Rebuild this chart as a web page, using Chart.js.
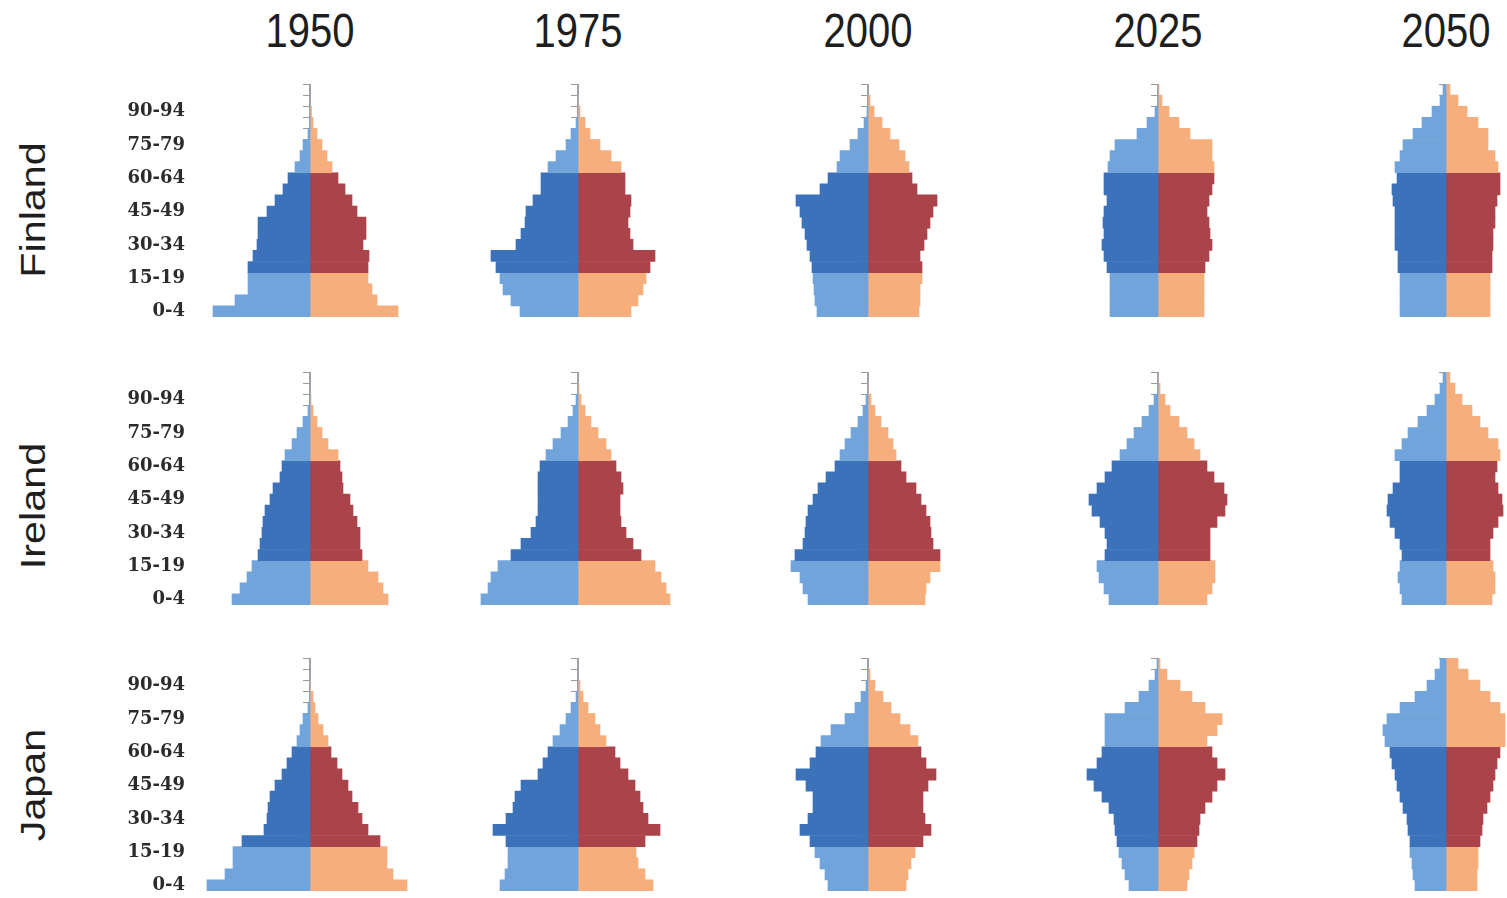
<!DOCTYPE html>
<html>
<head>
<meta charset="utf-8">
<script src="https://cdn.jsdelivr.net/npm/chart.js@4.4.1/dist/chart.umd.min.js"></script>
<style>
html,body{margin:0;padding:0;background:#fff;width:1507px;height:898px;overflow:hidden;position:relative;}
.pane{position:absolute;}
.year{position:absolute;top:8px;font-family:'Liberation Sans',Arial,sans-serif;font-size:40px;line-height:44px;color:#1e1e1e;white-space:nowrap;transform:translateX(-50%) scaleY(1.2);}
.country{position:absolute;font-family:'Liberation Sans',Arial,sans-serif;font-size:35px;line-height:40px;color:#1e1e1e;white-space:nowrap;transform:translate(-50%,-50%) rotate(-90deg) scaleX(1.18);}
</style>
</head>
<body>
<script>
// ---- categories / tick labels ----
const ageGroups = ['0-4','5-9','10-14','15-19','20-24','25-29','30-34','35-39','40-44','45-49','50-54','55-59','60-64','65-69','70-74','75-79','80-84','85-89','90-94','95-99','100+'];
const years = ['1950','1975','2000','2025','2050'];
const countries = ['Finland','Ireland','Japan'];

// ---- series values (share of population, index 0 = 0-4) ----
const finland1950Male   = [9.7,7.5,6.2,6.2,6.2,5.7,5.3,5.2,5.2,4.3,3.5,2.7,2.2,1.5,1.0,0.7,0.2,0.05,0,0,0];
const finland1950Female = [8.8,6.7,6.2,5.8,5.8,5.9,5.3,5.6,5.6,4.7,4.2,3.5,2.8,2.2,1.7,1.2,0.7,0.3,0.15,0,0];
const finland1975Male   = [5.8,6.7,7.5,7.8,8.2,8.7,6.2,5.7,5.3,5.2,4.5,3.7,3.7,3.0,2.2,1.2,0.7,0.2,0.05,0,0];
const finland1975Female = [5.3,6.0,6.5,6.8,7.2,7.7,5.5,5.2,5.0,5.2,5.3,4.7,4.7,4.3,3.3,2.2,1.2,0.7,0.2,0.05,0];
const finland2000Male   = [5.1,5.3,5.4,5.5,5.6,5.8,6.1,6.3,6.6,6.8,7.2,4.8,4.0,3.1,2.8,1.8,1.0,0.4,0.1,0,0];
const finland2000Female = [5.1,5.2,5.2,5.4,5.4,5.2,5.6,5.9,6.2,6.5,6.9,4.9,4.4,4.1,3.7,3.1,2.2,1.4,0.6,0.2,0];
const finland2025Male   = [4.8,4.8,4.8,4.8,5.1,5.4,5.6,5.4,5.5,5.4,5.1,5.4,5.4,5.0,4.8,4.3,2.1,1.1,0.3,0.05,0];
const finland2025Female = [4.6,4.6,4.6,4.6,4.7,5.1,5.4,5.2,5.1,4.9,5.1,5.4,5.6,5.6,5.4,5.4,3.2,2.1,1.1,0.4,0.1];
const finland2050Male   = [4.6,4.6,4.6,4.6,4.8,4.8,5.1,5.1,5.1,5.1,5.3,5.4,4.9,5.1,4.6,4.3,3.3,2.4,1.4,0.6,0.3];
const finland2050Female = [4.4,4.4,4.4,4.4,4.6,4.6,4.7,4.7,4.9,4.9,5.1,5.4,5.4,5.2,4.9,4.2,4.2,3.2,2.1,1.2,0.4];

const ireland1950Male   = [7.8,7.0,6.3,5.8,5.2,5.0,4.8,4.7,4.5,4.0,3.7,3.0,2.8,2.5,1.8,1.3,0.7,0.2,0.05,0,0];
const ireland1950Female = [7.8,7.3,6.8,5.8,5.2,5.0,5.0,4.7,4.3,4.0,3.3,3.2,3.0,2.8,1.8,1.2,0.7,0.3,0.1,0,0];
const ireland1975Male   = [9.7,9.0,8.7,8.0,6.7,5.7,4.7,4.2,4.0,4.0,4.0,4.0,3.8,3.2,2.5,1.7,1.0,0.5,0.2,0,0];
const ireland1975Female = [9.2,8.8,8.3,7.7,6.3,5.5,4.8,4.3,4.2,4.2,4.5,4.3,3.8,3.3,2.8,2.0,1.3,0.7,0.3,0.1,0];
const ireland2000Male   = [6.0,6.5,6.8,7.7,7.3,6.5,6.3,6.2,6.0,5.5,5.0,4.2,3.3,2.8,2.3,1.7,1.0,0.5,0.2,0,0];
const ireland2000Female = [5.7,5.8,6.2,7.2,7.2,6.5,6.3,6.2,5.8,5.3,4.8,3.8,3.3,2.8,2.5,2.0,1.3,0.7,0.3,0.05,0];
const ireland2025Male   = [4.9,5.4,5.9,6.1,5.3,5.1,5.3,5.8,6.6,6.9,6.1,5.3,4.6,3.8,3.1,2.4,1.6,0.9,0.4,0.05,0];
const ireland2025Female = [4.9,5.4,5.7,5.7,5.2,5.2,5.2,5.9,6.7,6.9,6.6,5.6,4.9,4.2,3.6,2.9,2.1,1.2,0.7,0.2,0.03];
const ireland2050Male   = [4.4,4.6,4.8,4.6,4.4,4.6,5.1,5.6,5.9,5.8,5.3,4.6,4.6,5.1,4.4,3.8,2.8,1.9,1.1,0.6,0.3];
const ireland2050Female = [4.6,4.9,4.9,4.7,4.4,4.4,4.7,5.2,5.7,5.6,5.2,4.9,5.1,5.4,5.2,4.2,3.4,2.6,1.6,0.9,0.4];

const japan1950Male   = [10.3,8.5,7.7,7.7,6.8,4.6,4.3,4.2,4.0,3.5,2.8,2.3,1.8,1.3,1.0,0.7,0.2,0.05,0,0,0];
const japan1950Female = [9.7,8.3,7.7,7.7,7.0,5.8,5.2,4.8,4.2,3.8,3.2,2.7,2.1,1.8,1.3,0.8,0.5,0.3,0.05,0,0];
const japan1975Male   = [7.8,7.3,7.0,7.0,7.2,8.5,7.2,6.5,6.3,5.7,4.0,3.5,3.0,2.5,1.8,1.2,0.7,0.2,0.05,0,0];
const japan1975Female = [7.5,6.7,6.0,5.8,6.7,8.2,7.0,6.5,6.2,5.7,5.0,4.2,3.7,2.8,2.2,1.7,1.0,0.5,0.2,0,0];
const japan2000Male   = [4.0,4.3,4.8,5.3,5.8,6.8,6.0,5.5,5.5,6.2,7.2,5.8,5.2,4.7,3.7,2.3,1.3,0.7,0.2,0.05,0];
const japan2000Female = [3.8,4.0,4.3,4.7,5.5,6.3,5.7,5.5,5.5,6.0,6.8,5.8,5.3,5.0,4.2,3.2,2.3,1.5,0.7,0.2,0];
const japan2025Male   = [2.9,3.3,3.6,3.9,4.1,4.3,4.4,4.9,5.6,6.4,7.1,6.1,5.6,5.3,5.3,5.3,3.3,1.9,0.9,0.3,0.1];
const japan2025Female = [2.9,3.1,3.4,3.6,3.9,4.1,4.2,4.7,5.4,5.9,6.7,5.9,5.4,4.9,5.9,6.4,4.7,3.4,2.2,0.9,0.2];
const japan2050Male   = [3.1,3.3,3.4,3.6,3.6,3.8,3.9,4.3,4.6,4.9,5.1,5.4,5.6,6.1,6.3,5.9,4.6,3.1,1.9,1.1,0.6];
const japan2050Female = [3.1,3.1,3.2,3.2,3.4,3.6,3.7,4.1,4.4,4.7,4.9,5.1,5.4,5.9,5.9,5.9,5.4,4.4,3.4,2.2,1.2];

const series = {
  Finland: [[finland1950Male,finland1950Female],[finland1975Male,finland1975Female],[finland2000Male,finland2000Female],[finland2025Male,finland2025Female],[finland2050Male,finland2050Female]],
  Ireland: [[ireland1950Male,ireland1950Female],[ireland1975Male,ireland1975Female],[ireland2000Male,ireland2000Female],[ireland2025Male,ireland2025Female],[ireland2050Male,ireland2050Female]],
  Japan:   [[japan1950Male,japan1950Female],[japan1975Male,japan1975Female],[japan2000Male,japan2000Female],[japan2025Male,japan2025Female],[japan2050Male,japan2050Female]]
};

// ---- styling / layout ----
const lightBlue = '#70a4da', darkBlue = '#3b72b9', lightOrange = '#f5ae7c', darkRed = '#aa434a';
const axisX = [310, 578, 868, 1158, 1446];
const rowTop = [84, 372, 658];
const rowCenter = [210, 506, 785];
const plotH = 233, halfW = 122, xMax = 12.2, labelAxisW = 88;
const isWorking = i => i >= 4 && i <= 12;

years.forEach((y, c) => {
  const d = document.createElement('div');
  d.className = 'year'; d.textContent = y;
  d.style.left = axisX[c] + 'px';
  document.body.appendChild(d);
});
countries.forEach((name, r) => {
  const d = document.createElement('div');
  d.className = 'country'; d.textContent = name;
  d.style.left = '33px'; d.style.top = rowCenter[r] + 'px';
  document.body.appendChild(d);
});

countries.forEach((country, r) => {
  years.forEach((yr, c) => {
    const [male, female] = series[country][c];
    const showLabels = c === 0;
    const extra = showLabels ? labelAxisW : 0;
    const w = extra + 2 * halfW;
    const pane = document.createElement('div');
    pane.className = 'pane';
    pane.style.left = (axisX[c] - halfW - extra) + 'px';
    pane.style.top = rowTop[r] + 'px';
    const cv = document.createElement('canvas');
    cv.width = w; cv.height = plotH;
    cv.style.width = w + 'px'; cv.style.height = plotH + 'px';
    pane.appendChild(cv);
    document.body.appendChild(pane);

    new Chart(cv, {
      type: 'bar',
      data: {
        labels: ageGroups,
        datasets: [
          { label: 'Male', yAxisID: 'y', data: male.map(v => -v),
            backgroundColor: ageGroups.map((_, i) => isWorking(i) ? darkBlue : lightBlue),
            barPercentage: 1, categoryPercentage: 1, borderWidth: 0 },
          { label: 'Female', yAxisID: 'y', data: female.slice(),
            backgroundColor: ageGroups.map((_, i) => isWorking(i) ? darkRed : lightOrange),
            barPercentage: 1, categoryPercentage: 1, borderWidth: 0 }
        ]
      },
      options: {
        indexAxis: 'y',
        responsive: false,
        maintainAspectRatio: false,
        animation: false,
        devicePixelRatio: 1,
        layout: { padding: 0 },
        plugins: { legend: { display: false }, tooltip: { enabled: false }, title: { display: false } },
        scales: {
          x: { type: 'linear', min: -xMax, max: xMax, stacked: true, display: false },
          y: {
            type: 'category', axis: 'y', reverse: true, stacked: true, offset: true,
            display: showLabels, position: 'left',
            grid: { display: false, drawTicks: false },
            border: { display: false },
            ticks: {
              autoSkip: false, padding: 3, color: '#2b2b2b',
              font: { family: 'DejaVu Serif', weight: 'bold', size: 18 },
              callback: function (value) { return value % 3 === 0 ? ageGroups[value] : ''; }
            },
            afterFit: s => {
              s.width = showLabels ? labelAxisW : 0;
              s.paddingTop = 0; s.paddingBottom = 0;
            }
          },
          yc: {
            type: 'category', axis: 'y', reverse: true, offset: true,
            position: { x: 0 },
            grid: { display: true, drawOnChartArea: false, drawTicks: true, tickLength: 6, color: '#9a9a9a', lineWidth: 1, offset: true },
            border: { display: true, color: '#9a9a9a', width: 2 },
            ticks: { display: false },
            afterFit: s => { s.width = 0; s.paddingTop = 0; s.paddingBottom = 0; }
          }
        }
      }
    });
  });
});
</script>
</body>
</html>
